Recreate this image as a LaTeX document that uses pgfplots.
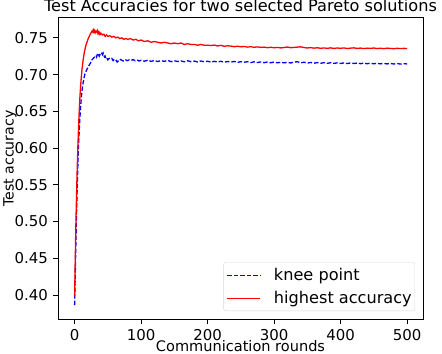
\documentclass[border=0pt]{standalone}
\usepackage{pgfplots}
\pgfplotsset{compat=1.18}
\usepackage{fontspec}
\setmainfont{DejaVu Sans}
\newcommand\tickfont{\fontsize{15}{18}\selectfont}
\newcommand\titlefont{\fontsize{16.2}{19}\selectfont}
\newcommand\labelfont{\fontsize{14.6}{17}\selectfont}
\begin{document}
\tickfont
\begin{tikzpicture}
\path[use as bounding box] (-58bp,-35bp) rectangle (384bp,319bp);
\begin{axis}[
  scale only axis,
  width=365bp, height=302bp,
  xmin=-25, xmax=524,
  ymin=0.3672, ymax=0.7784,
  xtick={0,100,200,300,400,500},
  ytick={0.40,0.45,0.50,0.55,0.60,0.65,0.70,0.75},
  yticklabel style={/pgf/number format/.cd,fixed,fixed zerofill,precision=2},
  /pgf/number format/assume math mode=true,
  tick label style={font=\tickfont},
  tick align=outside,
  major tick length=5bp,
  xtick pos=bottom, ytick pos=left,
  axis line style={black, line width=0.8pt},
  tick style={black, line width=0.8pt},
  title={Test Accuracies for two selected Pareto solutions},
  every axis title/.style={font=\titlefont, at={(axis description cs:0.5,1)}, anchor=base, inner sep=0pt, yshift=5bp},
  xlabel={Communication rounds},
  ylabel={Test accuracy},
  every axis x label/.style={font=\labelfont, at={(axis description cs:0.5,0)}, anchor=base, inner sep=0pt, yshift=-32.5bp},
  every axis y label/.style={font=\fontsize{14.2}{17}\selectfont, at={(axis description cs:-0.1507,0.531)}, rotate=90, anchor=north, inner sep=0pt},
  legend style={font=\titlefont, at={(0.978,0.026)}, anchor=south east, draw=black!15, rounded corners=2bp, fill=white, column sep=0bp, row sep=4.5bp, inner xsep=1bp, inner ysep=3.5bp},
  legend cell align=left,
  legend image code/.code={},
]
\addplot[blue, line width=1.3bp, dash pattern=on 4.5bp off 2bp] coordinates {
(0,0.386) (1,0.430) (2,0.475) (3,0.515) (4,0.550) (5,0.580) (6,0.605) (7,0.625) (8,0.642) (9,0.656)
(10,0.668) (11,0.677) (12,0.684) (13,0.690) (14,0.695) (15,0.699) (16,0.702) (17,0.704) (18,0.706) (19,0.708)
(20,0.710) (22,0.713) (24,0.716) (26,0.720) (28,0.722) (30,0.724) (32,0.726) (33,0.724) (34,0.727) (35,0.726)
(36,0.728) (37,0.725) (38,0.727) (39,0.726) (40,0.728) (41,0.729) (42,0.727) (43,0.729) (44,0.726) (45,0.724)
(46,0.725) (47,0.722) (48,0.723) (50,0.720) (52,0.722) (54,0.721) (56,0.722) (58,0.719) (60,0.721) (62,0.720)
(64,0.717) (66,0.719) (68,0.721) (70,0.720) (73,0.7185) (76,0.7205) (79,0.7190) (82,0.7200) (85,0.7192) (88,0.7205)
(91,0.7188) (94,0.7198) (97,0.7185) (100,0.7195) (105,0.7182) (110,0.7196) (115,0.7180) (120,0.7192) (125,0.7178) (130,0.7190)
(135,0.7180) (140,0.7193) (145,0.7176) (150,0.7188) (155,0.7178) (160,0.7186) (165,0.7174) (170,0.7188) (175,0.7176) (180,0.7184)
(185,0.7172) (190,0.7185) (195,0.7174) (200,0.7182) (205,0.7170) (210,0.7180) (215,0.7172) (220,0.7181) (225,0.7168) (230,0.7178)
(235,0.7170) (240,0.7179) (245,0.7166) (250,0.7176) (255,0.7168) (260,0.7175) (265,0.7163) (270,0.7174) (275,0.7164) (280,0.7172)
(285,0.7162) (290,0.7171) (295,0.7161) (300,0.7170) (305,0.7160) (310,0.7168) (315,0.7160) (320,0.7166) (325,0.7158) (330,0.7170)
(335,0.7175) (340,0.7160) (345,0.7168) (350,0.7157) (355,0.7165) (360,0.7155) (365,0.7163) (370,0.7154) (375,0.7162) (380,0.7153)
(385,0.7161) (390,0.7152) (395,0.7160) (400,0.7151) (405,0.7159) (410,0.7150) (415,0.7158) (420,0.7151) (425,0.7157) (430,0.7149)
(435,0.7156) (440,0.7148) (445,0.7155) (450,0.7147) (455,0.7154) (460,0.7146) (465,0.7153) (470,0.7145) (475,0.7152) (480,0.7144)
(485,0.7151) (490,0.7143) (495,0.7149) (500,0.7145)
};
\addlegendentry{\tikz[baseline=-0.55ex]{\draw[blue, line width=1.3bp, dash pattern=on 4.5bp off 2bp] (0bp,0bp) -- (33bp,0bp);}\hspace{13bp}knee point}
\addplot[red, line width=1.3bp] coordinates {
(0,0.398) (1,0.452) (2,0.500) (3,0.540) (4,0.575) (5,0.605) (6,0.630) (7,0.652) (8,0.670) (9,0.684)
(10,0.696) (11,0.706) (12,0.714) (13,0.721) (14,0.727) (15,0.732) (16,0.736) (17,0.740) (18,0.743) (19,0.745)
(20,0.748) (21,0.750) (22,0.752) (23,0.754) (24,0.756) (25,0.757) (26,0.759) (27,0.758) (28,0.761) (29,0.758)
(30,0.760) (31,0.757) (32,0.759) (33,0.758) (34,0.760) (35,0.756) (36,0.758) (37,0.755) (38,0.757) (39,0.755)
(40,0.756) (42,0.754) (44,0.755) (46,0.752) (48,0.754) (50,0.752) (53,0.753) (56,0.751) (59,0.752) (62,0.750)
(65,0.751) (68,0.749) (71,0.750) (74,0.748) (77,0.749) (80,0.748) (84,0.749) (88,0.747) (92,0.748) (96,0.746)
(100,0.747) (105,0.745) (110,0.746) (115,0.744) (120,0.745) (125,0.744) (130,0.743) (135,0.744) (140,0.743) (145,0.742)
(150,0.743) (155,0.742) (160,0.743) (165,0.741) (170,0.742) (175,0.741) (180,0.741) (185,0.740) (190,0.741) (195,0.740)
(200,0.740) (205,0.7395) (210,0.7402) (215,0.7390) (220,0.7398) (225,0.7385) (230,0.7392) (235,0.7388) (240,0.7380) (245,0.7386)
(250,0.7378) (255,0.7383) (260,0.7374) (265,0.7380) (270,0.7372) (275,0.7377) (280,0.7370) (285,0.7374) (290,0.7366) (295,0.7372)
(300,0.7365) (305,0.7370) (310,0.7363) (315,0.7368) (320,0.7375) (325,0.7366) (330,0.7370) (335,0.7374) (340,0.7378) (345,0.7368)
(350,0.7362) (355,0.7367) (360,0.7360) (365,0.7365) (370,0.7358) (375,0.7363) (380,0.7357) (385,0.7364) (390,0.7356) (395,0.7362)
(400,0.7358) (405,0.7363) (410,0.7355) (415,0.7360) (420,0.7364) (425,0.7356) (430,0.7361) (435,0.7354) (440,0.7360) (445,0.7357)
(450,0.7362) (455,0.7355) (460,0.7359) (465,0.7353) (470,0.7360) (475,0.7356) (480,0.7352) (485,0.7358) (490,0.7354) (495,0.7357)
(500,0.7355)
};
\addlegendentry{\tikz[baseline=-0.55ex]{\draw[red, line width=1.3bp] (0bp,0bp) -- (33bp,0bp);}\hspace{13bp}highest accuracy}
\end{axis}
\end{tikzpicture}
\end{document}
